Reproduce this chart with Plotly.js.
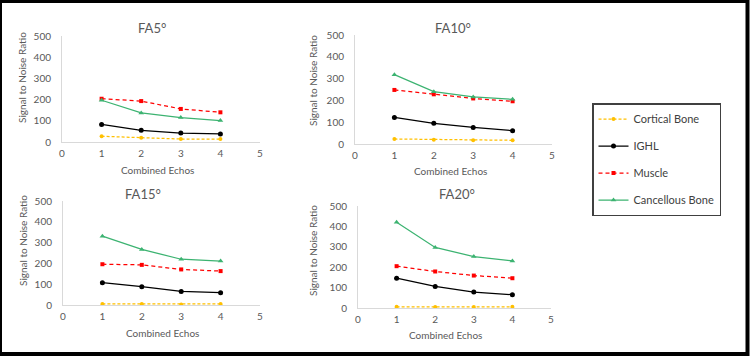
<!DOCTYPE html>
<html>
<head>
<meta charset="utf-8">
<script src="https://cdn.plot.ly/plotly-3.0.1.min.js"></script>
<style>
  html, body { margin: 0; padding: 0; background: #fff; }
  #chart { width: 750px; height: 356px; }
</style>
</head>
<body>
<div id="chart"></div>
<script>
// ---- data ----
const echoes = [1, 2, 3, 4];
const seriesNames = ["Cortical Bone", "IGHL", "Muscle", "Cancellous Bone"];
const panelTitles = ["FA5°", "FA10°", "FA15°", "FA20°"];
const xTicks = [0, 1, 2, 3, 4, 5];
const yTicks = [0, 100, 200, 300, 400, 500];

const fa5_cortical   = [27, 20, 14, 14];
const fa5_ighl       = [83, 55, 42, 38];
const fa5_muscle     = [204, 193, 156, 140];
const fa5_cancellous = [197, 137, 115, 101];

const fa10_cortical   = [23, 20, 17, 17];
const fa10_ighl       = [122, 95, 76, 61];
const fa10_muscle     = [248, 228, 209, 196];
const fa10_cancellous = [318, 240, 216, 205];

const fa15_cortical   = [5, 5, 3, 5];
const fa15_ighl       = [107, 88, 65, 59];
const fa15_muscle     = [196, 193, 171, 163];
const fa15_cancellous = [331, 267, 220, 211];

const fa20_cortical   = [6, 5, 5, 6];
const fa20_ighl       = [146, 106, 78, 65];
const fa20_muscle     = [205, 179, 159, 146];
const fa20_cancellous = [420, 297, 252, 231];

const panels = [
  [fa5_cortical, fa5_ighl, fa5_muscle, fa5_cancellous],
  [fa10_cortical, fa10_ighl, fa10_muscle, fa10_cancellous],
  [fa15_cortical, fa15_ighl, fa15_muscle, fa15_cancellous],
  [fa20_cortical, fa20_ighl, fa20_muscle, fa20_cancellous]
];

// ---- styles ----
const W = 750, H = 356;
const px = x => x / W;
const py = y => 1 - y / H;
const FONT = "Lato, 'Open Sans', sans-serif";
const styles = [
  {line: {color: "#FFC000", width: 1.25, dash: "3px,2px"}, marker: {symbol: "circle", size: 4, color: "#FFC000"}},
  {line: {color: "#000000", width: 1.25}, marker: {symbol: "circle", size: 5, color: "#000000"}},
  {line: {color: "#FF0000", width: 1.25, dash: "4px,3px"}, marker: {symbol: "square", size: 4, color: "#FF0000"}},
  {line: {color: "#3CB371", width: 1.25}, marker: {symbol: "triangle-up", size: 5, color: "#3CB371"}}
];

// panel geometry in pixels: plot box, title, axis titles
const geo = [
  {x0: 62, x1: 260, yT: 36, yB: 142, t: [152, 28], xt: [157, 170], yt: [22, 78]},
  {x0: 355, x1: 552, yT: 35, yB: 144, t: [453, 28], xt: [450, 171], yt: [313, 81]},
  {x0: 63, x1: 260, yT: 201, yB: 305, t: [143, 194], xt: [162, 333], yt: [23, 241]},
  {x0: 358, x1: 551, yT: 206, yB: 308, t: [457, 194], xt: [445, 335], yt: [313, 251]}
];

const traces = [];
const layout = {
  width: W, height: H,
  margin: {l: 0, r: 0, t: 0, b: 0},
  paper_bgcolor: "#fff", plot_bgcolor: "#fff",
  font: {family: FONT, color: "#595959"},
  showlegend: true,
  legend: {
    x: px(592), y: py(103), xanchor: "left", yanchor: "top",
    bordercolor: "#404040", borderwidth: 1.5,
    font: {family: FONT, size: 11, color: "#404040"},
    traceorder: "grouped", tracegroupgap: 8,
    bgcolor: "#fff"
  },
  annotations: [],
  shapes: [{
    type: "rect", xref: "paper", yref: "paper",
    x0: px(0), x1: px(747.5), y0: py(354), y1: py(1),
    line: {color: "#000", width: 4}
  }]
};

panels.forEach((vals, p) => {
  const g = geo[p];
  const ax = p === 0 ? "" : String(p + 1);
  vals.forEach((v, s) => {
    traces.push({
      type: "scatter", mode: "lines+markers",
      x: echoes, y: v, name: seriesNames[s],
      legendgroup: seriesNames[s], showlegend: p === 0,
      xaxis: "x" + ax, yaxis: "y" + ax,
      line: styles[s].line, marker: styles[s].marker
    });
  });
  layout["xaxis" + ax] = {
    domain: [px(g.x0), px(g.x1)], anchor: "y" + ax,
    range: [0, 5], tickvals: xTicks, showgrid: false, zeroline: false,
    showline: true, linecolor: "#d9d9d9", linewidth: 1, ticks: "",
    tickfont: {size: 10, color: "#595959"}, ticklabelstandoff: 2, fixedrange: true
  };
  layout["yaxis" + ax] = {
    domain: [py(g.yB), py(g.yT)], anchor: "x" + ax,
    range: [0, 500], tickvals: yTicks, showgrid: false, zeroline: false,
    showline: true, linecolor: "#d9d9d9", linewidth: 1, ticks: "",
    tickfont: {size: 10, color: "#595959"}, ticklabelstandoff: 8, fixedrange: true
  };
  layout.annotations.push(
    {text: panelTitles[p], xref: "paper", yref: "paper", x: px(g.t[0]), y: py(g.t[1]),
     xanchor: "center", yanchor: "middle", showarrow: false,
     font: {family: FONT, size: 13, color: "#595959"}},
    {text: "Combined Echos", xref: "paper", yref: "paper", x: px(g.xt[0]), y: py(g.xt[1]),
     xanchor: "center", yanchor: "middle", showarrow: false,
     font: {family: FONT, size: 10, color: "#595959"}},
    {text: "Signal to Noise Ratio", xref: "paper", yref: "paper", x: px(g.yt[0]), y: py(g.yt[1]),
     xanchor: "center", yanchor: "middle", showarrow: false, textangle: -90,
     font: {family: FONT, size: 10, color: "#595959"}}
  );
});

Plotly.newPlot("chart", traces, layout, {displayModeBar: false, staticPlot: true});
</script>
</body>
</html>
